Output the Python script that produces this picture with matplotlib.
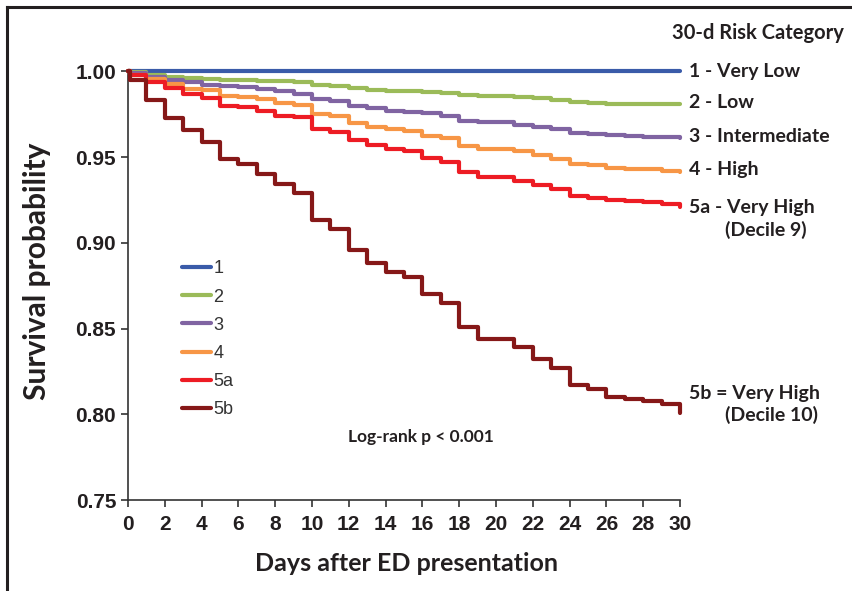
import numpy as np
import matplotlib.pyplot as plt
from matplotlib.lines import Line2D

# time points (days); 0.1 is the small early drop
t = [0, 0.1] + list(range(1, 31))

s1 = [1.0] * 32
s2 = [1.0, 0.9995, 0.998, 0.9969, 0.9961, 0.9958, 0.995, 0.9948, 0.9945, 0.9942, 0.9936,
      0.9922, 0.9916, 0.9903, 0.9891, 0.9887, 0.9883, 0.9877, 0.9872, 0.9863, 0.9854,
      0.9854, 0.9848, 0.9842, 0.9834, 0.9819, 0.9817, 0.9811, 0.9809, 0.9809, 0.9809, 0.9808]
s3 = [1.0, 0.999, 0.9969, 0.9951, 0.9936, 0.9922, 0.9912, 0.9906, 0.9897, 0.9887, 0.9867,
      0.9838, 0.9828, 0.980, 0.9786, 0.977, 0.9764, 0.9755, 0.974, 0.9712, 0.9702,
      0.9702, 0.9688, 0.9673, 0.9661, 0.9642, 0.9634, 0.9628, 0.9622, 0.9618, 0.9615, 0.961]
s4 = [1.0, 0.998, 0.9955, 0.9926, 0.9897, 0.9891, 0.9858, 0.9848, 0.9838, 0.9813, 0.9805,
      0.975, 0.974, 0.970, 0.9677, 0.9663, 0.9653, 0.9624, 0.961, 0.9566, 0.9546,
      0.9546, 0.9533, 0.9513, 0.9488, 0.9459, 0.9455, 0.9436, 0.9432, 0.9428, 0.942, 0.941]
s5a = [1.0, 0.998, 0.9936, 0.990, 0.9867, 0.9842, 0.980, 0.9794, 0.977, 0.974, 0.9731,
       0.9663, 0.9644, 0.9599, 0.9572, 0.9546, 0.9533, 0.9494, 0.9469, 0.941, 0.9385,
       0.9385, 0.9361, 0.9338, 0.9313, 0.9274, 0.9264, 0.9249, 0.9241, 0.9235, 0.9225, 0.9206]
s5b = [1.0, 0.995, 0.983, 0.973, 0.966, 0.959, 0.949, 0.946, 0.940, 0.934, 0.929,
       0.913, 0.908, 0.896, 0.888, 0.883, 0.880, 0.870, 0.865, 0.851, 0.844,
       0.844, 0.839, 0.832, 0.827, 0.817, 0.815, 0.810, 0.809, 0.808, 0.806, 0.801]

series = [s1, s2, s3, s4, s5a, s5b]
names = ['1', '2', '3', '4', '5a', '5b']
colors = ['#3A5BA9', '#9BBB59', '#8064A2', '#F79646', '#ED1C24', '#861818']

right_labels = [('1 - Very Low', 72), ('2 - Low', 103), ('3 - Intermediate', 136),
                ('4 - High', 170), ('5a - Very High', 207), ('5b = Very High', 393)]

W, H = 853, 591
fig = plt.figure(figsize=(W / 100, H / 100), dpi=100)
ax = fig.add_axes([128 / W, 1 - 500 / H, 552 / W, 428.7 / H])

for s, n, c in zip(series, names, colors):
    ax.step(t, s, where='post', color=c, lw=3, label=n,
            solid_capstyle='round', clip_on=False, zorder=3)

ax.set_xlim(0, 30)
ax.set_ylim(0.75, 1.0)
ax.set_xticks(np.arange(0, 31, 2))
ax.set_yticks([0.75, 0.80, 0.85, 0.90, 0.95, 1.00])
ax.set_yticklabels(['%.2f' % v for v in [0.75, 0.80, 0.85, 0.90, 0.95, 1.00]])
for sp in ['top', 'right']:
    ax.spines[sp].set_visible(False)
for sp in ['left', 'bottom']:
    ax.spines[sp].set_color('#333333')
    ax.spines[sp].set_linewidth(1.2)
ax.tick_params(direction='out', length=5, width=1.2, color='#333333',
               labelsize=15, labelcolor='#231F20')
ax.tick_params(axis='x', pad=6)
for lab in ax.get_xticklabels() + ax.get_yticklabels():
    lab.set_fontfamily('Liberation Sans')
    lab.set_fontweight('bold')

lbl = dict(family='Lato', fontweight='bold', color='#231F20')
ax.set_xlabel('Days after ED presentation', fontsize=18, va='center', **lbl)
ax.xaxis.set_label_coords(0.505, -0.147)
ax.set_ylabel('Survival probability', fontsize=21.5, va='center', **lbl)
ax.yaxis.set_label_coords(-0.165, 0.533)

leg = ax.legend(loc='upper left', bbox_to_anchor=(0.068, 0.597), frameon=False,
                handlelength=1.6, handletextpad=0.15, labelspacing=0.62,
                prop={'family': 'Liberation Sans', 'size': 13})
for txt in leg.get_texts():
    txt.set_color('#333333')

ax.text(0.53, 0.147, 'Log-rank p < 0.001', transform=ax.transAxes, ha='center',
        va='center', fontsize=12.5, **lbl)

fig.text(672 / W, 1 - 33 / H, '30-d Risk Category', ha='left', va='center', fontsize=14.5, **lbl)
for txt, yp in right_labels:
    fig.text(689 / W, 1 - yp / H, txt, ha='left', va='center', fontsize=14, **lbl)
fig.text(725 / W, 1 - 230 / H, '(Decile 9)', ha='left', va='center', fontsize=14, **lbl)
fig.text(725 / W, 1 - 415 / H, '(Decile 10)', ha='left', va='center', fontsize=14, **lbl)

# frame lines on left and top
fig.add_artist(Line2D([7 / W, 7 / W], [0, 1 - 7 / H], color='#231F20', lw=2.2))
fig.add_artist(Line2D([7 / W, 1], [1 - 7 / H, 1 - 7 / H], color='#231F20', lw=2.2))

fig.savefig('out.png', dpi=100)
